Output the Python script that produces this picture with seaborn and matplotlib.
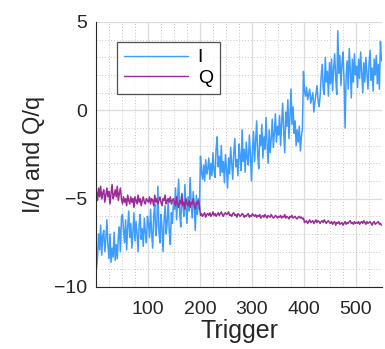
import numpy as np
import pandas as pd
import matplotlib
matplotlib.use("Agg")
import matplotlib.pyplot as plt
import seaborn as sns
from matplotlib.ticker import MultipleLocator

# Trigger index (every second trigger)
trigger = list(range(1, 551, 2))

i_values = [
    -9.0, -8.3, -7.0, -7.9, -6.5, -8.2, -7.1, -6.8, -8.0, -7.3, -6.2, -7.6, -8.4, -7.0, -8.6, -7.8, -8.3, -6.9, -8.5, -7.6, -8.4, -7.2, -6.6, -8.0, -6.1,
    -5.9, -6.8, -7.5, -6.2, -7.9, -6.6, -5.7, -7.2, -6.4, -7.8, -6.9, -5.8, -7.4, -6.3, -7.0, -8.0, -6.5, -5.9, -7.3, -6.7, -7.7, -6.1, -6.9, -7.5, -6.0,
    -6.4, -7.2, -5.6, -6.9, -7.8, -6.0, -5.3, -7.1, -6.5, -4.3, -6.8, -7.5, -5.9, -6.6, -8.0, -6.2, -5.4, -7.0, -6.3, -5.0, -6.9, -7.6, -5.8, -6.4, -5.2,
    -5.6, -4.4, -6.2, -5.1, -3.9, -5.8, -6.6, -4.7, -5.3, -6.0, -4.2, -5.5, -6.4, -4.9, -5.7, -3.8, -5.2, -6.1, -4.6, -5.4, -6.8, -4.8, -5.9, -5.0, -5.6,
    -2.6, -3.5, -3.9, -3.1, -4.0, -2.8, -3.6, -3.3, -2.7, -3.9, -3.0, -3.7, -2.4, -3.4, -3.8, -2.2, -1.5, -3.2, -2.6, -3.7, -2.0, -3.5, -2.9, -4.1, -2.5,
    -3.3, -4.4, -2.7, -3.6, -2.1, -3.0, -3.9, -2.4, -1.6, -3.2, -2.8, -3.7, -1.9, -2.6, -3.4, -1.1, -2.9, -2.2, -3.5, -1.8, -2.7, -3.1, -1.4, -2.5, -4.0,
    -2.3, -1.2, -2.9, -1.7, -0.6, -2.5, -3.3, -1.4, -2.0, -0.8, -2.7, -1.5, -2.2, -0.4, -1.9, -3.0, -1.1, -2.4, -1.6, -0.5, -2.1, -1.3, -0.2, -1.8, -0.9,
    -1.4, -0.3, -2.0, -0.7, 0.4, -1.2, -2.4, -0.1, -0.9, 0.6, -1.6, -0.4, 1.2, -0.8, 0.2, -1.3, -0.6, -2.0, -1.1, -1.8, -0.9, -2.3, -1.5, -1.0, 2.2,
    1.1, 0.8, 1.3, 0.6, 0.9, 1.2, 0.4, 0.7, 1.0, -0.1, 0.5, 0.9, 1.4, 0.6, 0.2, 0.8, 1.9, 2.6, 1.2, 0.9, 3.0, 1.6, 2.2, 0.8, 2.7,
    1.5, 2.9, 1.1, 2.4, 3.2, 1.8, 0.9, 4.5, 2.1, 3.1, 1.4, 2.6, 3.3, 1.7, -1.0, 1.9, 2.8, 1.2, 3.5, 2.3, 0.7, 2.9, 1.6, 3.2, 2.0,
    2.5, 1.3, 2.9, 1.8, 3.3, 2.2, 1.0, 2.7, 1.6, 3.0, 2.1, 1.2, 2.6, 3.4, 1.7, 2.4, 1.1, 2.9, 2.0, 3.1, 1.5, 2.6, 1.2, 3.9, 2.8,
]

q_values = [
    -4.6, -5.1, -4.4, -4.9, -4.3, -5.0, -4.7, -4.5, -5.2, -4.8, -4.4, -4.9, -4.6, -5.3, -4.7, -4.2, -5.0, -4.8, -4.5, -4.9, -4.3, -5.1, -4.7, -4.4, -5.0,
    -5.3, -4.9, -5.2, -5.0, -5.4, -4.8, -5.1, -5.3, -4.9, -5.2, -5.0, -5.5, -4.9, -5.1, -5.3, -4.8, -5.2, -5.0, -5.4, -5.1, -4.9, -5.2, -5.3, -5.0, -5.1,
    -5.2, -4.9, -5.3, -5.0, -5.1, -5.4, -4.8, -5.2, -5.0, -5.3, -5.1, -4.9, -5.2, -5.4, -5.0, -5.1, -4.8, -5.3, -5.1, -5.0, -5.2, -4.9, -5.3, -5.1, -5.0,
    -5.2, -5.4, -4.9, -5.3, -5.5, -5.1, -5.3, -4.8, -5.4, -5.2, -5.6, -5.0, -5.3, -5.4, -5.1, -5.5, -5.2, -5.3, -5.0, -5.4, -5.6, -5.2, -5.3, -5.1, -5.4,
    -5.95, -5.85, -6.0, -5.9, -5.8, -6.05, -5.9, -5.85, -5.95, -5.8, -6.0, -5.9, -5.75, -5.95, -5.85, -6.0, -5.9, -5.8, -5.95, -5.85, -5.75, -5.9, -6.0, -5.85, -5.8,
    -5.9, -5.85, -5.75, -5.95, -5.9, -6.0, -5.85, -5.8, -5.95, -5.9, -6.05, -5.85, -5.9, -6.0, -5.95, -5.85, -5.9, -6.05, -5.95, -6.0, -5.9, -5.85, -6.05, -5.95, -6.0,
    -5.85, -5.95, -6.0, -5.9, -6.05, -5.95, -6.0, -5.9, -6.1, -6.0, -5.95, -6.05, -5.9, -6.0, -6.1, -5.95, -6.0, -6.05, -5.9, -6.0, -6.1, -6.05, -5.95, -6.0, -6.1,
    -6.0, -6.05, -5.95, -6.1, -6.0, -6.05, -5.9, -6.1, -6.0, -6.05, -6.15, -6.0, -6.05, -5.95, -6.1, -6.05, -6.0, -6.1, -6.15, -6.05, -6.0, -6.1, -6.05, -6.15, -6.1,
    -6.35, -6.3, -6.25, -6.4, -6.3, -6.2, -6.35, -6.3, -6.25, -6.4, -6.3, -6.2, -6.35, -6.25, -6.3, -6.4, -6.3, -6.25, -6.35, -6.2, -6.3, -6.4, -6.3, -6.25, -6.35,
    -6.4, -6.3, -6.45, -6.35, -6.3, -6.5, -6.35, -6.4, -6.3, -6.45, -6.4, -6.35, -6.5, -6.4, -6.3, -6.45, -6.35, -6.4, -6.3, -6.25, -6.4, -6.35, -6.45, -6.3, -6.4,
    -6.35, -6.4, -6.3, -6.45, -6.35, -6.3, -6.4, -6.25, -6.35, -6.45, -6.3, -6.4, -6.35, -6.3, -6.4, -6.5, -6.35, -6.3, -6.45, -6.4, -6.35, -6.3, -6.45, -6.4, -6.5,
]

series_names = ["I", "Q"]
series_colors = {"I": "#3d9cff", "Q": "#9b2b96"}

df = pd.DataFrame({
    "Trigger": trigger * 2,
    "value": i_values + q_values,
    "series": ["I"] * len(trigger) + ["Q"] * len(trigger),
})

sns.set_style("white")
plt.rcParams["font.family"] = ["Liberation Sans", "DejaVu Sans"]

fig = plt.figure(figsize=(3.85, 3.49), dpi=100)
ax = fig.add_axes([0.2506, 0.1777, 0.7416, 0.7593])

sns.lineplot(data=df, x="Trigger", y="value", hue="series", hue_order=series_names,
             palette=series_colors, linewidth=1.1, ax=ax, estimator=None, sort=False)

ax.set_xlim(1, 550)
ax.set_ylim(-10, 5)
ax.xaxis.set_major_locator(MultipleLocator(100))
ax.xaxis.set_minor_locator(MultipleLocator(25))
ax.yaxis.set_major_locator(MultipleLocator(5))
ax.yaxis.set_minor_locator(MultipleLocator(1))

ax.grid(which="major", color="#dcdcdc", linewidth=0.9, linestyle="-")
ax.grid(which="minor", color="#b5b5b5", linewidth=0.6, linestyle=(0, (1, 2.5)))
ax.set_axisbelow(True)

for s in ["top", "right"]:
    ax.spines[s].set_visible(False)
for s in ["left", "bottom"]:
    ax.spines[s].set_color("#262626")
    ax.spines[s].set_linewidth(0.8)

ax.tick_params(axis="both", which="major", direction="in", length=3, width=0.6,
               colors="#262626", labelsize=14, pad=7)
ax.tick_params(axis="both", which="minor", length=0)
ax.tick_params(axis="x", pad=10)

ax.set_xlabel("Trigger", fontsize=18, color="#262626", labelpad=1)
ax.set_ylabel("I/q and Q/q", fontsize=17, color="#262626", labelpad=6)

leg = ax.legend(loc="upper left", bbox_to_anchor=(0.072, 0.9245), borderaxespad=0,
                fontsize=14, handlelength=3.3, handletextpad=0.5, labelspacing=0.15,
                borderpad=0.35, frameon=True, fancybox=False, title=None)
leg.get_frame().set_edgecolor("#262626")
leg.get_frame().set_linewidth(0.9)
for line in leg.get_lines():
    line.set_linewidth(1.0)
for t in leg.get_texts():
    t.set_color("black")

fig.savefig("out.png", dpi=100)
